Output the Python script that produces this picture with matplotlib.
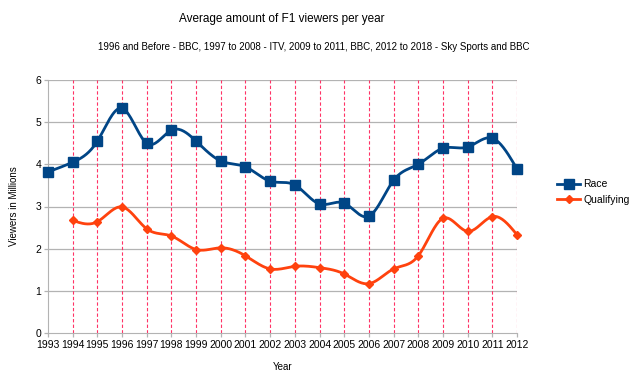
import matplotlib
matplotlib.use("Agg")
import matplotlib.pyplot as plt
import numpy as np

plt.rcParams["font.family"] = ["Liberation Sans", "DejaVu Sans"]

years = list(range(1993, 2013))
race = [3.82, 4.05, 4.55, 5.33, 4.50, 4.81, 4.55, 4.08, 3.94, 3.60,
        3.51, 3.06, 3.08, 2.77, 3.62, 4.00, 4.38, 4.41, 4.62, 3.89]
qual_years = list(range(1994, 2013))
qual = [2.67, 2.64, 2.99, 2.47, 2.30, 1.98, 2.02, 1.83, 1.52, 1.58,
        1.55, 1.40, 1.17, 1.52, 1.83, 2.72, 2.41, 2.76, 2.33]


def spline(x, y, n=20):
    # natural cubic spline, for drawing the smoothed line only
    x = np.asarray(x, float); y = np.asarray(y, float)
    m = len(x); h = np.diff(x)
    A = np.zeros((m, m)); b = np.zeros(m)
    A[0, 0] = A[-1, -1] = 1
    for i in range(1, m - 1):
        A[i, i - 1] = h[i - 1]; A[i, i] = 2 * (h[i - 1] + h[i]); A[i, i + 1] = h[i]
        b[i] = 3 * ((y[i + 1] - y[i]) / h[i] - (y[i] - y[i - 1]) / h[i - 1])
    c = np.linalg.solve(A, b)
    xs, ys = [], []
    for i in range(m - 1):
        t = np.linspace(0, h[i], n, endpoint=False)
        bb = (y[i + 1] - y[i]) / h[i] - h[i] * (2 * c[i] + c[i + 1]) / 3
        d = (c[i + 1] - c[i]) / (3 * h[i])
        xs.append(x[i] + t); ys.append(y[i] + bb * t + c[i] * t**2 + d * t**3)
    xs.append([x[-1]]); ys.append([y[-1]])
    return np.concatenate(xs), np.concatenate(ys)


RACE_C = "#004586"
QUAL_C = "#ff420e"

fig = plt.figure(figsize=(6.32, 3.88), dpi=100)
ax = fig.add_axes([48 / 632, 55 / 388, 469 / 632, 253 / 388])

for yv in range(1, 7):
    ax.axhline(yv, color="#b3b3b3", lw=0.9, zorder=1)
for yr in years[1:]:
    ax.axvline(yr, color="#ff3366", lw=0.8, ls=(0, (3, 2)), zorder=1)

sx, sy = spline(years, race)
ax.plot(sx, sy, color=RACE_C, lw=2, zorder=3, clip_on=False)
ax.plot(years, race, "s", color=RACE_C, ms=7.5, zorder=4, clip_on=False)
qx, qy = spline(qual_years, qual)
ax.plot(qx, qy, color=QUAL_C, lw=2, zorder=3, clip_on=False)
ax.plot(qual_years, qual, "D", color=QUAL_C, ms=4.5, zorder=4, clip_on=False)

# legend proxies
ax.plot([], [], "s-", color=RACE_C, lw=2, ms=6.5, label="Race")
ax.plot([], [], "D-", color=QUAL_C, lw=2, ms=4, label="Qualifying")

ax.set_xlim(1993, 2012)
ax.set_ylim(0, 6)
ax.set_xticks(years)
ax.set_yticks(range(0, 7))
ax.tick_params(labelsize=7.5, color="#b3b3b3", length=3, width=0.9, pad=2)
for s in ["top", "right"]:
    ax.spines[s].set_visible(False)
for s in ["left", "bottom"]:
    ax.spines[s].set_color("#b3b3b3")

ax.set_xlabel("Year", fontsize=7, labelpad=9)
ax.set_ylabel("Viewers in Millions", fontsize=7, labelpad=12)

fig.text(282 / 632, 1 - 19 / 388, "Average amount of F1 viewers per year",
         ha="center", va="center", fontsize=8.5)
fig.text(314 / 632, 1 - 47 / 388,
         "1996 and Before - BBC, 1997 to 2008 - ITV, 2009 to 2011, BBC, 2012 to 2018 - Sky Sports and BBC",
         ha="center", va="center", fontsize=7)

fig.legend(loc="center left", bbox_to_anchor=(0.867, 0.505), frameon=False,
           fontsize=7.5, handlelength=2.2, handletextpad=0.3, labelspacing=0.5)

fig.savefig("out.png", dpi=100)
